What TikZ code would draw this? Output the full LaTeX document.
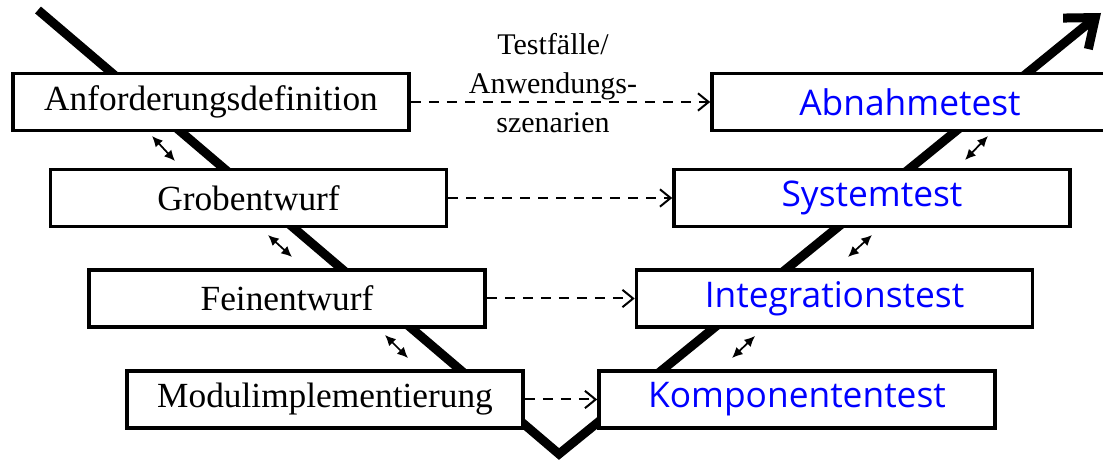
\documentclass[tikz,border=0pt]{standalone}
\usepackage{fontspec}
\setmainfont{Liberation Serif}
\newfontfamily\testfont{Open Sans}
\usetikzlibrary{arrows.meta}

\tikzset{
  entwurf/.style={draw, line width=2.7pt, fill=white, minimum width=297pt,
    minimum height=43pt, inner sep=0pt, font=\fontsize{26.5}{30}\selectfont},
  testbox/.style={entwurf, text=blue, font=\testfont\fontsize{26.5}{30}\selectfont},
  uebergang/.style={-{Straight Barb[length=8pt,width=13pt]}, line width=1.5pt,
    dash pattern=on 7.5pt off 6pt},
  wechsel/.style={{Latex[length=8pt,width=7.5pt]}-{Latex[length=8pt,width=7.5pt]}, line width=1.3pt},
}

\begin{document}
\begin{tikzpicture}[x=0.75pt,y=-0.75pt]
      \useasboundingbox (0,0) rectangle (1103,466);
      \clip (0,0) rectangle (1103,466);

      % V
      \draw[line width=6.75pt, -{Straight Barb[length=19pt,width=30pt]}]
        (38,10) -- (559,454) -- (1101,13);

      % Entwurf
      \node[entwurf] (anf)   at (211,102)   {Anforderungsdefinition};
      \node[entwurf] (grob)  at (248.5,198) {Grobentwurf};
      \node[entwurf] (fein)  at (287,298.5) {Feinentwurf};
      \node[entwurf] (modul) at (325,399.5) {Modulimplementierung};

      % Test
      \node[testbox] (abn)   at (910,102)   {Abnahmetest};
      \node[testbox] (sys)   at (872,198)   {Systemtest};
      \node[testbox] (integ) at (834.5,298.5) {Integrationstest};
      \node[testbox] (komp)  at (797,399.5) {Komponententest};

      \draw[uebergang] (anf) -- (abn);
      \draw[uebergang] (grob) -- (sys);
      \draw[uebergang] (fein) -- (integ);
      \draw[uebergang] (modul) -- (komp);

      \node[font=\fontsize{22.5}{29}\selectfont, align=center] (faelle) at (553,83)
        {Testfälle/\\Anwendungs-\\szenarien};

      \foreach \xa/\ya/\xb/\yb in {152/136/175/161, 268/235/292/257, 385/335/408/358,
                                   965/160/988/136, 848/257/872/235, 732/358/755/336}
        \draw[wechsel] (\xa,\ya) -- (\xb,\yb);
\end{tikzpicture}
\end{document}
